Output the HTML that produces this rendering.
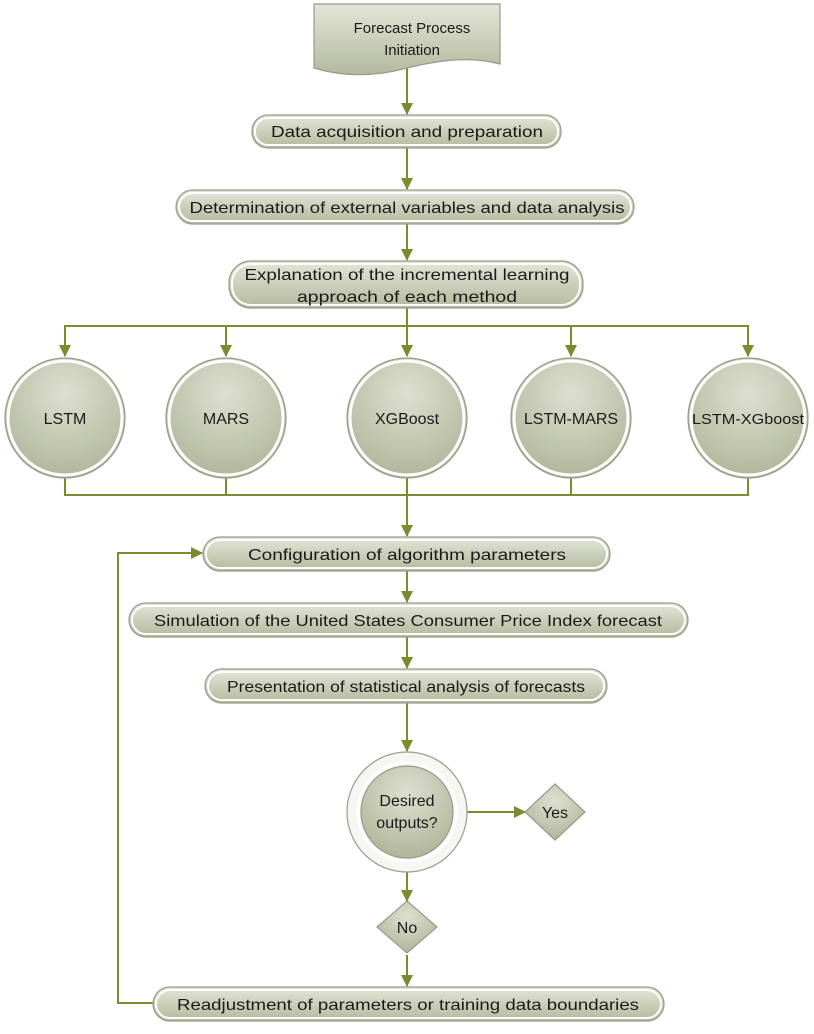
<!DOCTYPE html>
<html><head><meta charset="utf-8"><style>
html,body{margin:0;padding:0;background:#fff;}
svg text{font-family:"Liberation Sans",sans-serif;fill:#1a1a1a;}
</style></head><body>
<svg width="814" height="1029" viewBox="0 0 814 1029" xmlns="http://www.w3.org/2000/svg">
<defs>
<linearGradient id="g" x1="0" y1="0" x2="0" y2="1">
<stop offset="0" stop-color="#e3e6d8"/><stop offset="1" stop-color="#b3b99d"/></linearGradient>
<radialGradient id="rg" cx="0.5" cy="0.3" r="0.75">
<stop offset="0" stop-color="#dde0d0"/><stop offset="1" stop-color="#adb396"/></radialGradient>
<marker id="a" markerWidth="12" markerHeight="12" refX="11" refY="6" orient="auto" markerUnits="userSpaceOnUse">
<path d="M0,0 L12,6 L0,12 z" fill="#7a8c2e"/></marker>
</defs>
<g stroke="#7a8c2e" stroke-width="2" fill="none">
<line x1="407" y1="68" x2="407" y2="114" marker-end="url(#a)"/>
<line x1="407" y1="148" x2="407" y2="189" marker-end="url(#a)"/>
<line x1="407" y1="224" x2="407" y2="260" marker-end="url(#a)"/>
<line x1="407" y1="308" x2="407" y2="356" marker-end="url(#a)"/>
<polyline points="65,356 65,326 748,326 748,356"/>
<line x1="65" y1="326" x2="65" y2="356" marker-end="url(#a)"/>
<line x1="226" y1="326" x2="226" y2="356" marker-end="url(#a)"/>
<line x1="571" y1="326" x2="571" y2="356" marker-end="url(#a)"/>
<line x1="748" y1="326" x2="748" y2="356" marker-end="url(#a)"/>
<polyline points="65,478 65,495 748,495 748,478"/>
<line x1="226" y1="478" x2="226" y2="495"/>
<line x1="571" y1="478" x2="571" y2="495"/>
<line x1="407" y1="478" x2="407" y2="536" marker-end="url(#a)"/>
<line x1="407" y1="571" x2="407" y2="602" marker-end="url(#a)"/>
<line x1="407" y1="637" x2="407" y2="668" marker-end="url(#a)"/>
<line x1="407" y1="703" x2="407" y2="751" marker-end="url(#a)"/>
<line x1="467" y1="812" x2="525" y2="812" marker-end="url(#a)"/>
<line x1="407" y1="872" x2="407" y2="901" marker-end="url(#a)"/>
<line x1="407" y1="955" x2="407" y2="986" marker-end="url(#a)"/>
<polyline points="153,1003 118,1003 118,553 202,553" marker-end="url(#a)"/>
</g>
<g stroke="#9a9a8c" stroke-width="1.2" fill="url(#g)">
<path d="M314,4 H500 V64 C470,56 440,60 407,68 C370,78 340,76 314,68 Z"/>
<rect x="252" y="115" width="309" height="33" rx="16"/>
<rect x="176" y="190" width="458" height="34" rx="17"/>
<rect x="229" y="261" width="354" height="47" rx="22"/>
<rect x="203" y="537" width="407" height="34" rx="17"/>
<rect x="129" y="603" width="559" height="34" rx="17"/>
<rect x="205" y="669" width="402" height="34" rx="17"/>
<rect x="153" y="987" width="511" height="34" rx="17"/>
</g>
<g stroke="#fff" stroke-width="2" fill="none">
<rect x="255" y="118" width="303" height="27" rx="13"/>
<rect x="179" y="193" width="452" height="28" rx="14"/>
<rect x="232" y="264" width="348" height="41" rx="19"/>
<rect x="206" y="540" width="401" height="28" rx="14"/>
<rect x="132" y="606" width="553" height="28" rx="14"/>
<rect x="208" y="672" width="396" height="28" rx="14"/>
<rect x="156" y="990" width="505" height="28" rx="14"/>
</g>
<g fill="url(#rg)" stroke="#9a9a8c" stroke-width="1.2">
<circle cx="65" cy="418" r="60"/><circle cx="226" cy="418" r="60"/><circle cx="407" cy="418" r="60"/>
<circle cx="571" cy="418" r="60"/><circle cx="748" cy="418" r="60"/>
<circle cx="407" cy="812" r="60" fill="#f6f7f2"/>
<circle cx="407" cy="812" r="46"/>
<path d="M555,784 L585,812 L555,840 L525,812 Z"/>
<path d="M407,901 L437,927 L407,953 L377,927 Z"/>
</g>
<g fill="none" stroke="#fff" stroke-width="3">
<circle cx="65" cy="418" r="57"/><circle cx="226" cy="418" r="57"/><circle cx="407" cy="418" r="57"/>
<circle cx="571" cy="418" r="57"/><circle cx="748" cy="418" r="57"/>
<circle cx="407" cy="812" r="49"/>
</g>
<g font-size="15" text-anchor="middle">
<text x="412" y="33">Forecast Process</text>
<text x="412" y="55">Initiation</text>
<text x="407" y="137" font-size="16" textLength="272" lengthAdjust="spacingAndGlyphs">Data acquisition and preparation</text>
<text x="407" y="213" font-size="16" textLength="435" lengthAdjust="spacingAndGlyphs">Determination of external variables and data analysis</text>
<text x="407" y="280" font-size="16" textLength="325" lengthAdjust="spacingAndGlyphs">Explanation of the incremental learning</text>
<text x="407" y="302" font-size="16" textLength="220" lengthAdjust="spacingAndGlyphs">approach of each method</text>
<text x="65" y="424" font-size="16">LSTM</text>
<text x="226" y="424" font-size="16">MARS</text>
<text x="407" y="424" font-size="16">XGBoost</text>
<text x="571" y="424" font-size="16">LSTM-MARS</text>
<text x="748" y="424" font-size="15" textLength="112" lengthAdjust="spacingAndGlyphs">LSTM-XGboost</text>
<text x="407" y="560" font-size="16" textLength="318" lengthAdjust="spacingAndGlyphs">Configuration of algorithm parameters</text>
<text x="408" y="626" font-size="16" textLength="508" lengthAdjust="spacingAndGlyphs">Simulation of the United States Consumer Price Index forecast</text>
<text x="406" y="692" font-size="16" textLength="358" lengthAdjust="spacingAndGlyphs">Presentation of statistical analysis of forecasts</text>
<text x="407" y="806" font-size="16">Desired</text>
<text x="407" y="828" font-size="16">outputs?</text>
<text x="555" y="818" font-size="16">Yes</text>
<text x="407" y="933" font-size="16">No</text>
<text x="408" y="1010" font-size="16" textLength="462" lengthAdjust="spacingAndGlyphs">Readjustment of parameters or training data boundaries</text>
</g>
</svg>
</body></html>
